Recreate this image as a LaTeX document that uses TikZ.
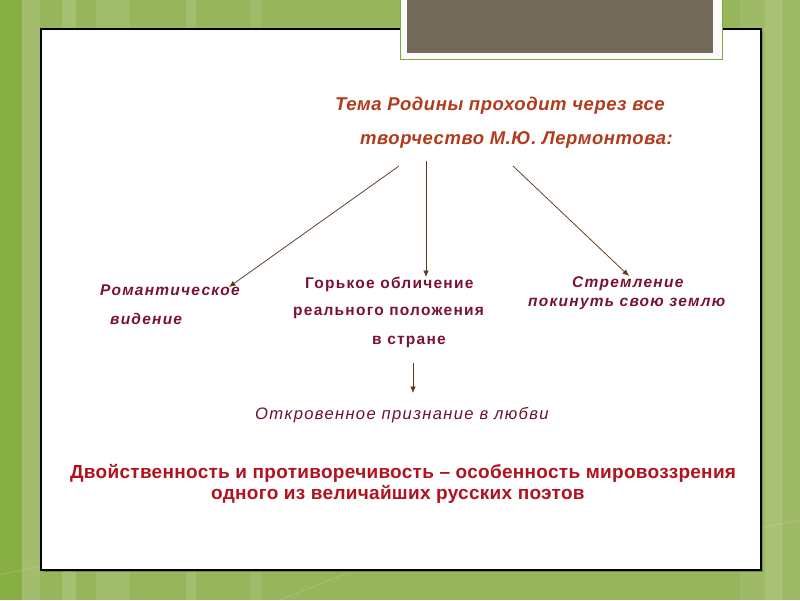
\documentclass[tikz,border=0pt]{standalone}
\usepackage{fontspec}
\setmainfont{Liberation Sans}
\newfontfamily\titlef{Liberation Sans}[LetterSpace=3]
\newfontfamily\rowf{Liberation Sans}[LetterSpace=8]
\newfontfamily\lovef{Liberation Sans}[LetterSpace=8]
\newfontfamily\concf{Liberation Sans}[LetterSpace=1.5]
\usetikzlibrary{arrows.meta}
\definecolor{bggreen}{HTML}{97B55A}
\definecolor{bgdark}{HTML}{86AE42}
\definecolor{greybox}{HTML}{736A5A}
\definecolor{frameline}{HTML}{7FA83A}
\definecolor{titlecol}{HTML}{B33A1C}
\definecolor{rowcol}{HTML}{7A1232}
\definecolor{lovecol}{HTML}{6A1525}
\definecolor{concl}{HTML}{B0121E}
\definecolor{arrowcol}{HTML}{5A3A1E}
\tikzset{
  txt/.style={inner sep=0pt, anchor=west},
  titletxt/.style={txt, text=titlecol, font=\titlef\fontsize{18.5}{20}\selectfont\bfseries\itshape},
  rowtxt/.style={txt, text=rowcol, font=\rowf\fontsize{15.5}{17}\selectfont\bfseries},
  rowitx/.style={rowtxt, font=\rowf\fontsize{15.5}{17}\selectfont\bfseries\itshape},
  lovetxt/.style={txt, text=lovecol, font=\lovef\fontsize{16.6}{18}\selectfont\itshape},
  conctxt/.style={txt, text=concl, font=\concf\fontsize{19}{21}\selectfont\bfseries},
  conn/.style={draw=arrowcol, line width=0.75pt, -{Latex[length=6.5pt,width=5.5pt]}},
}
\begin{document}
\begin{tikzpicture}[x=1pt,y=-1pt]
\useasboundingbox (0,0) rectangle (800,600);
% background
\fill[bggreen] (0,0) rectangle (800,600);
\fill[bgdark] (0,0) rectangle (22,600);
\fill[white,opacity=0.12] (22,0) rectangle (40,600);
\fill[white,opacity=0.15] (62,0) rectangle (76,600);
\fill[white,opacity=0.10] (96,0) rectangle (130,600);
\fill[white,opacity=0.12] (186,0) rectangle (196,600);
\fill[white,opacity=0.08] (250,0) rectangle (262,600);
\fill[white,opacity=0.08] (740,0) rectangle (800,600);
\fill[white,opacity=0.10] (765,0) rectangle (782,600);
\fill[bgdark,opacity=0.5] (700,0) rectangle (712,29);
\draw[white,opacity=0.15,line width=0.8pt] (0,575) -- (160,540) (280,600) -- (430,540) (600,560) -- (800,520);
% main panel
\fill[black,opacity=0.25] (43,31) rectangle (763,572);
\draw[fill=white, line width=1.3pt] (41,29) rectangle (761,570);
% title frame
\draw[fill=white!96!gray, draw=frameline, line width=0.9pt] (400,-2) rectangle (722,59);
\fill[greybox] (407,-2) rectangle (713,53);
% texts
\node[titletxt] (t1) at (335,106) {Тема Родины проходит через все};
\node[titletxt] (t2) at (360,140) {творчество М.Ю. Лермонтова:};
\node[rowitx] (r1) at (100,290) {Романтическое};
\node[rowitx] (r2) at (110,319) {видение};
\node[rowtxt] (g1) at (305,284) {Горькое обличение};
\node[rowtxt] (g2) at (293,313) {реального положения};
\node[rowtxt] (g3) at (372,342) {в стране};
\node[rowitx] (s1) at (572,284) {Стремление};
\node[rowitx] (s2) at (528,304) {покинуть свою землю};
\node[lovetxt] (o) at (255,415) {Откровенное признание в любви};
\node[conctxt] (d1) at (70,473) {Двойственность и противоречивость – особенность мировоззрения};
\node[conctxt] (d2) at (211,494) {одного из величайших русских поэтов};
% connectors
\coordinate (a1s) at (399,166);
\coordinate (a1e) at (229,287);
\coordinate (a2s) at (426,161);
\coordinate (a2e) at (426,277);
\coordinate (a3s) at (513,166);
\coordinate (a3e) at (629,276);
\coordinate (a4s) at (413,363);
\coordinate (a4e) at (413,393);
\draw[conn] (a1s) -- (a1e);
\draw[conn] (a2s) -- (a2e);
\draw[conn] (a3s) -- (a3e);
\draw[conn] (a4s) -- (a4e);
\end{tikzpicture}
\end{document}
